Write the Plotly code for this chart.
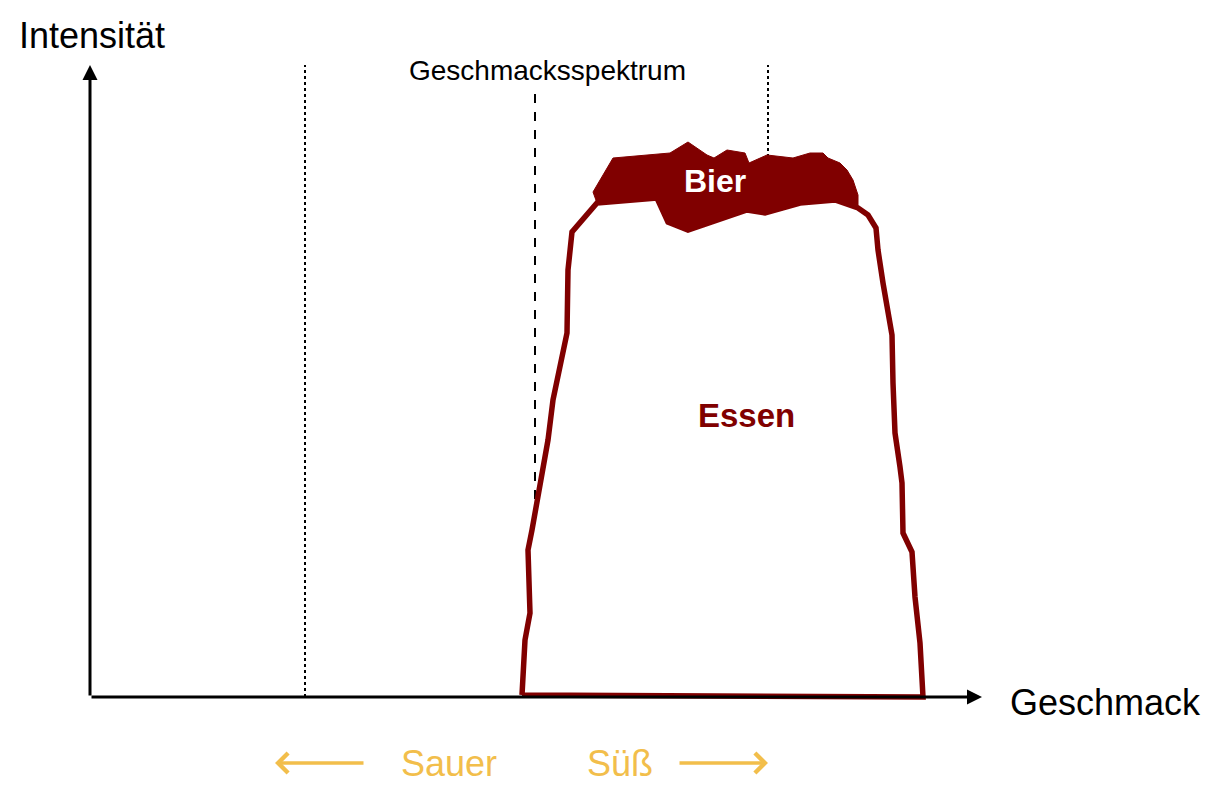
"""
Geschmack vs. Intensität: Essen-Profil mit Bier-Spitze
"""
import plotly.graph_objects as go

# Colours
DARK_RED = '#800000'
GOLD = '#F2BE4B'
FONT = 'Liberation Sans, Arial, sans-serif'

# Essen outline (Geschmack, Intensität), counter-clockwise from bottom left
ESSEN_X = [432, 435, 440, 438, 442, 453, 458, 463, 477, 478, 482, 507,
           567, 578, 598, 657, 675, 710, 745, 768,
           778, 786, 788, 793, 798, 801, 802, 803, 805, 810, 812, 813,
           818, 822, 825, 828, 830, 833, 432]
ESSEN_Y = [2, 57, 84, 147, 167, 224, 257, 297, 364, 427, 465, 494,
           499, 475, 467, 487, 484, 494, 497, 489,
           482, 469, 447, 414, 385, 375, 362, 314, 264, 230, 214, 164,
           154, 145, 100, 77, 54, 0, 2]

# Bier blob on top of the Essen profile
BIER_X = [503, 523, 580, 598, 617, 624, 637, 655, 659, 677, 703, 720, 733,
          738, 750, 757, 763, 768, 768, 745, 710, 675, 657, 598, 578, 567, 507, 503]
BIER_Y = [505, 539, 544, 555, 542, 539, 547, 544, 534, 542, 539, 544, 544,
          539, 534, 527, 517, 502, 489, 497, 494, 484, 487, 467, 475, 499, 494, 505]

# Reference lines
DOTTED_X = [215, 678]
DASHED_X = 445
LINE_TOP = 632
DASHED_TOP = 605

fig = go.Figure()

# vertical guide lines (behind the shapes)
for xv in DOTTED_X:
    fig.add_shape(type='line', x0=xv, x1=xv, y0=0, y1=LINE_TOP, layer='below',
                  line=dict(color='black', width=2, dash='dot'))
fig.add_shape(type='line', x0=DASHED_X, x1=DASHED_X, y0=0, y1=DASHED_TOP, layer='below',
              line=dict(color='black', width=2, dash='dash'))

fig.add_trace(go.Scatter(
    x=ESSEN_X, y=ESSEN_Y, mode='lines', fill='toself', fillcolor='white',
    line=dict(color=DARK_RED, width=5.5), hoverinfo='skip', showlegend=False
))
fig.add_trace(go.Scatter(
    x=BIER_X, y=BIER_Y, mode='lines', fill='toself', fillcolor=DARK_RED,
    line=dict(color=DARK_RED, width=1), hoverinfo='skip', showlegend=False
))

# axes with arrow heads
fig.add_annotation(x=0, y=632, ax=0, ay=0, xref='x', yref='y', axref='x', ayref='y',
                   text='', showarrow=True, arrowhead=2, arrowsize=1, arrowwidth=3,
                   arrowcolor='black')
fig.add_annotation(x=892, y=0, ax=0, ay=0, xref='x', yref='y', axref='x', ayref='y',
                   text='', showarrow=True, arrowhead=2, arrowsize=1, arrowwidth=3,
                   arrowcolor='black')

# Sauer / Süß arrows
fig.add_annotation(x=185, y=-66, ax=275, ay=-66, xref='x', yref='y', axref='x', ayref='y',
                   text='', showarrow=True, arrowhead=4, arrowsize=1.1, arrowwidth=3.5,
                   arrowcolor=GOLD)
fig.add_annotation(x=678, y=-66, ax=588, ay=-66, xref='x', yref='y', axref='x', ayref='y',
                   text='', showarrow=True, arrowhead=4, arrowsize=1.1, arrowwidth=3.5,
                   arrowcolor=GOLD)

labels = [
    (2, 662, 'Intensität', 36, 'black', False),
    (1015, -5, 'Geschmack', 36, 'black', False),
    (457, 627, 'Geschmacksspektrum', 28, 'black', False),
    (625, 516, 'Bier', 32, 'white', True),
    (656, 282, 'Essen', 33, DARK_RED, True),
    (359, -66, 'Sauer', 36, GOLD, False),
    (530, -66, 'Süß', 36, GOLD, False),
]
for xv, yv, txt, size, col, bold in labels:
    fig.add_annotation(x=xv, y=yv, xref='x', yref='y', showarrow=False,
                       text=f'<b>{txt}</b>' if bold else txt,
                       font=dict(family=FONT, size=size, color=col))

# the page body adds an 8px margin, so the figure is 8px smaller than the window
fig.update_layout(
    width=1201, height=784,
    margin=dict(l=0, r=0, t=0, b=0),
    paper_bgcolor='white', plot_bgcolor='white',
    xaxis=dict(range=[-82, 1119], visible=False, fixedrange=True),
    yaxis=dict(range=[-95, 689], visible=False, fixedrange=True),
)

fig.write_html("out.html")
